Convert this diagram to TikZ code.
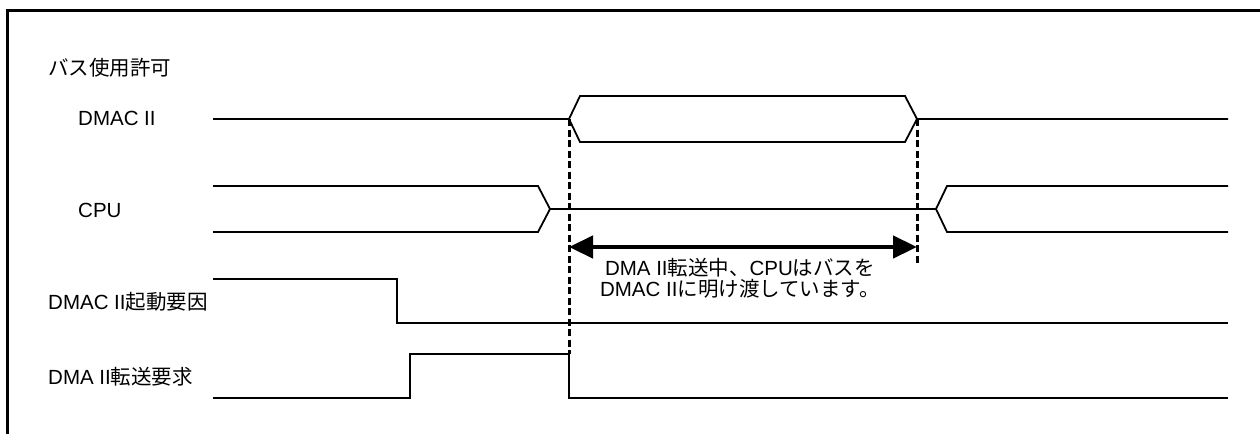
\documentclass[tikz,border=0pt]{standalone}
\usepackage{fontspec}
\setmainfont{Liberation Sans}
\newfontfamily\jp{Noto Sans CJK JP}
\usetikzlibrary{arrows.meta}
\begin{document}
\begin{tikzpicture}[x=1pt,y=-1pt,
  sig/.style={line width=1.8pt, line join=miter},
  frameline/.style={line width=3pt},
  guide/.style={line width=3pt, dash pattern=on 7pt off 3.5pt},
  span/.style={line width=4.5pt, {Triangle[length=24pt,width=22pt]}-{Triangle[length=24pt,width=22pt]}},
  lbl/.style={anchor=west, inner sep=0pt, font=\fontsize{20.5}{20}\selectfont},
  note/.style={anchor=north, inner sep=0pt, align=center, font=\fontsize{20.5}{21.5}\selectfont}]
\useasboundingbox (0,0) rectangle (1260,434);
% frame
\draw[frameline] (7.5,434) -- (7.5,10.5) -- (1260,10.5);
% labels
\node[lbl] (title) at (48,68) {{\jp バス使用許可}};
\node[lbl] (ldmac) at (78,118) {DMAC II};
\node[lbl] (lcpu) at (78,210) {CPU};
\node[lbl] (lstart) at (48,302) {DMAC II{\jp 起動要因}};
\node[lbl] (lreq) at (48,377) {DMA II{\jp 転送要求}};
% key coordinates
\coordinate (gA) at (569,119);
\coordinate (gB) at (917,119);
\coordinate (gAend) at (569,354);
\coordinate (gBend) at (917,265);
\coordinate (aL) at (569,247);
\coordinate (aR) at (917,247);
% DMAC II bus grant
\draw[sig] (213,119) -- (gA) -- (580,96) -- (905,96) -- (gB) -- (1228,119);
\draw[sig] (gA) -- (580,142) -- (905,142) -- (gB);
% CPU
\draw[sig] (213,186) -- (538,186) -- (550,209) -- (538,232) -- (213,232);
\draw[sig] (550,209) -- (936,209);
\draw[sig] (1228,186) -- (947,186) -- (936,209) -- (947,232) -- (1228,232);
% DMAC II start factor
\draw[sig] (213,279) -- (397,279) -- (397,323) -- (1228,323);
% DMA II transfer request
\draw[sig] (213,398) -- (410,398) -- (410,354) -- (gAend) -- (569,398) -- (1228,398);
% guides
\draw[guide] (gA) -- (gAend);
\draw[guide] (gB) -- (gBend);
% span arrow
\draw[span] (aL) -- (aR);
\node[note] (txt) at (740,258) {DMA II{\jp 転送中、}CPU{\jp はバスを}\\DMAC II{\jp に明け渡しています。}};
\end{tikzpicture}
\end{document}
